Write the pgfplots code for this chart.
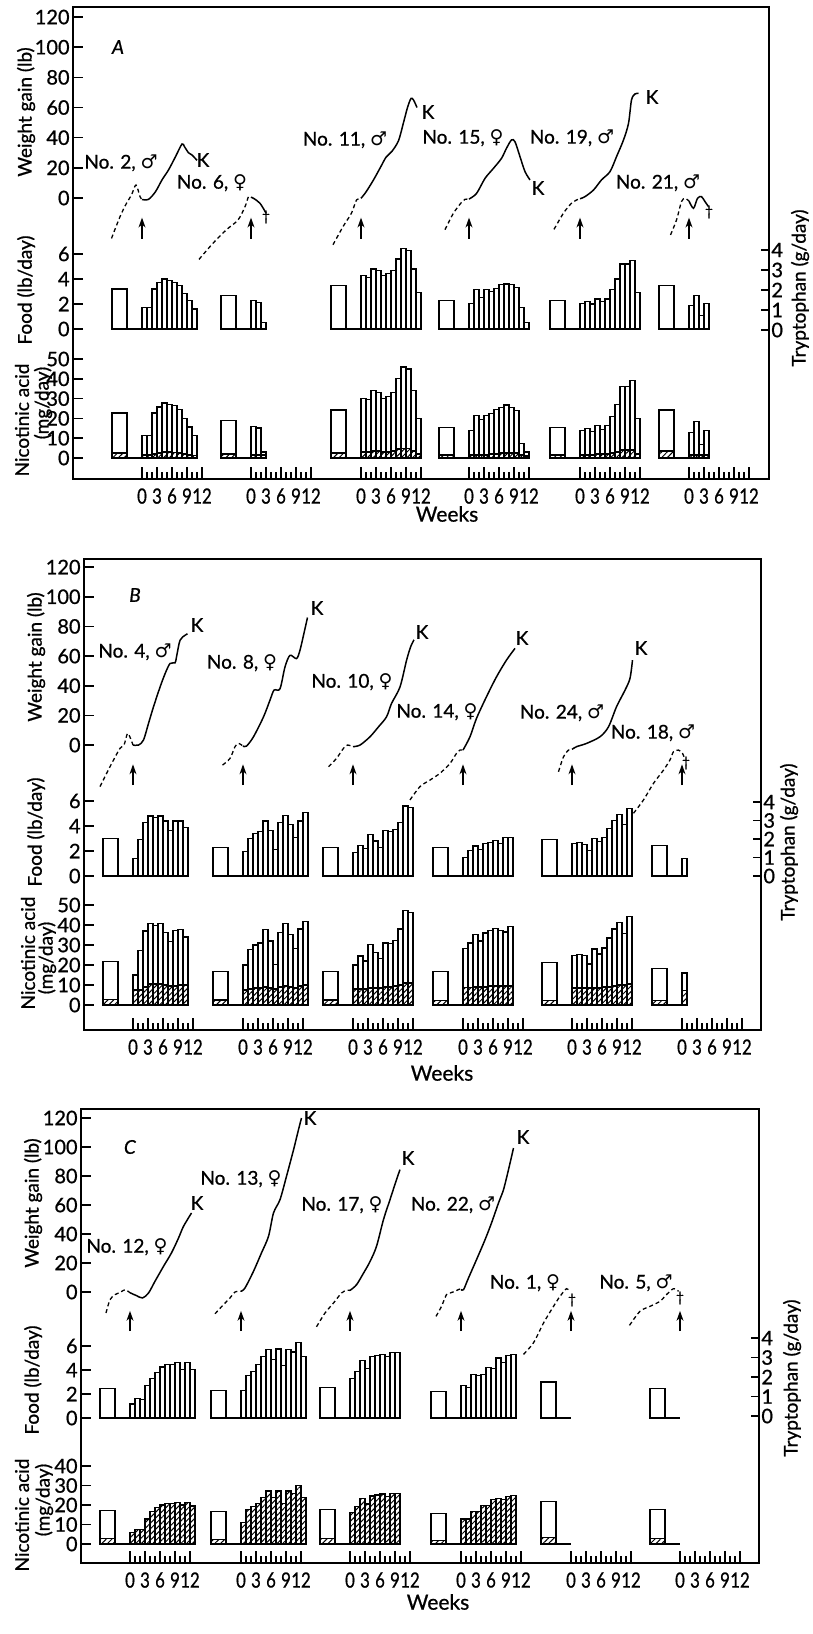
\documentclass[border=0pt]{standalone}
\usepackage{fontspec}
\setmainfont{Lato}[FakeBold=0.8]
\newfontfamily\symf{DejaVu Sans}
\usepackage{pgfplots}
\pgfplotsset{compat=1.18}
\usetikzlibrary{patterns,patterns.meta,arrows.meta}

\newcommand\tlf{\fontsize{10}{12}\selectfont}
\newcommand\wlf{\fontsize{10.5}{12}\selectfont}
\newcommand\lf{\fontsize{9.5}{11}\selectfont}
\newcommand\Male{{\symf ♂}}
\newcommand\Fem{{\symf ♀}}
\newcommand\dg{{\fontsize{7}{8}\selectfont †}}

\pgfplotsset{
 every axis/.append style={/pgf/number format/assume math mode=true},
 common/.style={x=2.5pt, xmin=0, anchor=south west, clip=false},
 frame/.style={common, ymin=0, ymax=1, axis line style={line width=0.9pt}, ytick=\empty, xtick pos=left, tick align=inside, major tick length=6pt, minor tick length=3.5pt, every tick/.style={black, line width=0.6pt}, xticklabel style={font=\wlf, inner sep=1pt, yshift=-3.5pt, xscale=0.8},
   xticklabels={0,3,6,9,12,0,3,6,9,12,0,3,6,9,12,0,3,6,9,12,0,3,6,9,12,0,3,6,9,12}},
 lax/.style={common, hide x axis, axis y line*=left, axis line style={draw=none}, tick align=inside, major tick length=5pt, every tick/.style={black, line width=0.8pt}, yticklabel style={font=\tlf, inner sep=1.5pt}},
 rax/.style={common, hide x axis, axis y line*=right, axis line style={draw=none}, tick align=inside, major tick length=4pt, every tick/.style={black, line width=0.8pt}, yticklabel style={font=\tlf, inner sep=1pt}, ymin=0, ymax=4.2, ytick={0,1,2,3,4}},
 wb/.style={ybar, bar shift=0pt, bar width=2.5pt, fill=white, draw=black, line width=0.6pt},
 pb/.style={wb, bar width=7.5pt},
 hb/.style={ybar, bar shift=0pt, bar width=2.5pt, draw=black, line width=0.6pt, pattern={Lines[angle=45,distance=2pt,line width=0.5pt]}},
 phb/.style={hb, bar width=7.5pt},
 dsh/.style={black, line width=0.65pt, dash pattern=on 2pt off 1.5pt, smooth, no markers},
 sol/.style={black, line width=0.75pt, smooth, no markers},
}

\newcommand\prebar[3][pb]{\addplot[#1] table[row sep=\\, x expr=\thisrow{t}+#2, y=v]{t v\\-4.5 #3\\};}
\newcommand\wk[3][wb]{\addplot[#1] table[row sep=\\, x expr=\coordindex+0.5+#2, y=v]{v\\#3};}
\newcommand\baseln[1]{\addplot[black, line width=0.6pt] table[row sep=\\, x expr=\thisrow{t}+#1, y=v]{t v\\-3 0\\0 0\\};}
\newcommand\wdash[2]{\addplot[dsh] table[row sep=\\, x expr=\thisrow{t}+#1, y=w]{t w\\#2};}
\newcommand\wsol[2]{\addplot[sol] table[row sep=\\, x expr=\thisrow{t}+#1, y=w]{t w\\#2};}
\newcommand\arr[1]{\addplot[black, line width=0.7pt, -{Stealth[length=5pt,width=3.5pt]}] table[row sep=\\, x expr=\thisrow{t}+#1, y=w]{t w\\0 -27\\0 -13\\};}
\newcommand\TT[3]{\node[font=\lf, inner sep=0pt] at (#1*0.5pt,-#2*0.5pt) {#3};}
\newcommand\RR[3]{\node[font=\lf, inner sep=0pt, rotate=90] at (#1*0.5pt,-#2*0.5pt) {#3};}

\begin{document}
\begin{tikzpicture}
\useasboundingbox (0,0) rectangle (406.5pt,-817pt);

%%%%%%%%%%%%%%%% PANEL A
\begin{axis}[frame, xmax=139.2, y=236pt, at={(36.5pt,-239.5pt)},
 xtick={13.8,16.8,19.8,22.8,25.8,35.6,38.6,41.6,44.6,47.6,57.6,60.6,63.6,66.6,69.6,79.2,82.2,85.2,88.2,91.2,101.4,104.4,107.4,110.4,113.4,123.2,126.2,129.2,132.2,135.2},
 minor xtick={14.8,15.8,17.8,18.8,20.8,21.8,23.8,24.8,36.6,37.6,39.6,40.6,42.6,43.6,45.6,46.6,58.6,59.6,61.6,62.6,64.6,65.6,67.6,68.6,80.2,81.2,83.2,84.2,86.2,87.2,89.2,90.2,102.4,103.4,105.4,106.4,108.4,109.4,111.4,112.4,124.2,125.2,127.2,128.2,130.2,131.2,133.2,134.2}]
\end{axis}

\begin{axis}[lax, xmax=139.2, ymin=-50, ymax=125, y=0.754pt, at={(36.5pt,-136.7pt)}, ytick={0,20,...,120}]
 \wdash{13.8}{-6.1 -26.8\\-4.4 -12.4\\-3.1 -3.5\\-2.1 2\\-1.2 8.6\\-0.4 0.9\\0 -1\\}
 \wsol{13.8}{0 -1\\1.3 -0.9\\2.7 4.2\\4 12\\5.3 18.6\\6.7 27.4\\8 35.8\\8.5 34\\9.3 30\\10 28.5\\11 25\\}
 \arr{13.8}
 \wdash{35.6}{-10.4 -40.7\\-7.6 -30\\-4.9 -21\\-2.6 -14.6\\-1.2 -5.8\\-0.5 0.9\\0 0.5\\}
 \wsol{35.6}{0 0.5\\0.5 -0.2\\1.8 -3.5\\3 -10\\}
 \arr{35.6}
 \wdash{57.6}{-5.6 -31\\-3.6 -19\\-1.9 -10\\-0.9 -1.3\\0 -0.2\\}
 \wsol{57.6}{0 -0.2\\1 4\\2.5 12\\4 21\\5 27\\6.2 31\\7.5 38\\8.5 50\\9.3 60\\10 66\\10.5 65\\11.2 60\\}
 \arr{57.6}
 \wdash{79.2}{-4.8 -21\\-3.1 -10\\-1.4 -2.5\\-0.8 -0.9\\0 -0.7\\}
 \wsol{79.2}{0 -0.7\\1.5 3\\3.2 13\\4.9 19.7\\6.5 26.3\\7.5 33\\8.5 38.5\\9.2 37.3\\10.2 27.4\\11.2 17.5\\12.2 12\\}
 \arr{79.2}
 \wdash{101.4}{-5.2 -20.8\\-3.3 -10\\-1.7 -3.5\\-0.3 -0.7\\0 -0.5\\}
 \wsol{101.4}{0 -0.5\\1 0.9\\2.7 5.3\\4.3 12\\6 17.5\\7.3 27.4\\8.7 38.5\\9.7 49.5\\10.3 65\\11 69\\11.7 69.4\\}
 \arr{101.4}
 \wdash{123.2}{-3.7 -24.5\\-2.5 -14.6\\-1.5 -2.4\\-0.8 -0.2\\0 -2\\}
 \wsol{123.2}{0 -2\\0.9 -6.8\\1.7 -0.2\\2.5 0.9\\3.2 -2.4\\3.9 -5.7\\}
 \arr{123.2}
\end{axis}

\begin{axis}[lax, xmax=139.2, ymin=0, ymax=6.5, y=6.25pt, at={(36.5pt,-164.5pt)}, ytick={0,2,4,6}]
 \prebar{13.8}{3.2}\baseln{13.8}
 \wk{13.8}{1.7\\1.7\\3.2\\3.7\\4.0\\3.9\\3.75\\3.5\\2.85\\2.3\\1.6\\}
 \prebar{35.6}{2.7}\baseln{35.6}
 \wk{35.6}{2.25\\2.15\\0.5\\}
 \prebar{57.6}{3.5}\baseln{57.6}
 \wk{57.6}{4.3\\4.15\\4.8\\4.65\\4.3\\4.45\\4.7\\5.6\\6.45\\6.25\\4.8\\2.9\\}
 \prebar{79.2}{2.3}\baseln{79.2}
 \wk{79.2}{2.05\\3.15\\2.55\\3.15\\3.0\\3.25\\3.55\\3.6\\3.55\\3.35\\1.7\\0.55\\}
 \prebar{101.4}{2.3}\baseln{101.4}
 \wk{101.4}{2.05\\2.2\\2.0\\2.4\\2.2\\2.4\\3.15\\4.0\\5.2\\5.2\\5.5\\2.95\\}
 \prebar{123.2}{3.5}\baseln{123.2}
 \wk{123.2}{1.9\\2.7\\1.1\\2.05\\}
\end{axis}
\begin{axis}[rax, xmax=139.2, y=10pt, at={(36.5pt,-165pt)}]
\end{axis}

\begin{axis}[lax, xmax=139.2, ymin=0, ymax=52, y=0.99pt, at={(36.5pt,-229pt)}, ytick={0,10,...,50}]
 \prebar{13.8}{22.7}\prebar[phb]{13.8}{2.5}\baseln{13.8}
 \wk{13.8}{11.4\\11.4\\22.7\\25.8\\27.8\\26.9\\26.4\\24.4\\19.9\\15.7\\11.4\\}
 \wk[hb]{13.8}{1.5\\1.5\\2\\2.5\\3\\3\\2.8\\2.5\\2\\1.5\\1.2\\}
 \prebar{35.6}{18.9}\prebar[phb]{35.6}{2}\baseln{35.6}
 \wk{35.6}{16\\15.2\\3\\}
 \wk[hb]{35.6}{1.5\\1.5\\1.5\\}
 \prebar{57.6}{24.2}\prebar[phb]{57.6}{2.5}\baseln{57.6}
 \wk{57.6}{30\\29.5\\34\\33\\30\\31\\33\\40\\46\\45\\34\\20\\}
 \wk[hb]{57.6}{3\\3\\3.5\\3.5\\3\\3\\3.5\\4.5\\5\\5\\3.5\\2\\}
 \prebar{79.2}{15.3}\prebar[phb]{79.2}{1.5}\baseln{79.2}
 \wk{79.2}{14\\21.4\\19.5\\21.4\\22.6\\24.6\\25.6\\26.8\\25.5\\23.9\\7.4\\3\\}
 \wk[hb]{79.2}{1.5\\1.5\\1.5\\1.5\\2\\2\\2.5\\2.5\\2.5\\2.5\\1.5\\1\\}
 \prebar{101.4}{15.3}\prebar[phb]{101.4}{1.5}\baseln{101.4}
 \wk{101.4}{14\\15\\13.5\\16.5\\14.5\\16.5\\21\\27\\36\\36\\39\\20\\}
 \wk[hb]{101.4}{1.5\\1.5\\1.5\\2\\2\\2\\2.5\\3\\4\\4\\4\\2\\}
 \prebar{123.2}{24.2}\prebar[phb]{123.2}{3.5}\baseln{123.2}
 \wk{123.2}{13\\18.3\\6.9\\14\\}
 \wk[hb]{123.2}{1.5\\1.5\\1.5\\1.5\\}
\end{axis}

%%%%%%%%%%%%%%%% PANEL B
\begin{axis}[frame, xmax=135.4, y=235.5pt, at={(42pt,-515pt)},
 xtick={9.8,12.8,15.8,18.8,21.8,31.8,34.8,37.8,40.8,43.8,53.8,56.8,59.8,62.8,65.8,75.8,78.8,81.8,84.8,87.8,97.6,100.6,103.6,106.6,109.6,119.6,122.6,125.6,128.6,131.6},
 minor xtick={10.8,11.8,13.8,14.8,16.8,17.8,19.8,20.8,32.8,33.8,35.8,36.8,38.8,39.8,41.8,42.8,54.8,55.8,57.8,58.8,60.8,61.8,63.8,64.8,76.8,77.8,79.8,80.8,82.8,83.8,85.8,86.8,98.6,99.6,101.6,102.6,104.6,105.6,107.6,108.6,120.6,121.6,123.6,124.6,126.6,127.6,129.6,130.6}]
\end{axis}

\begin{axis}[lax, xmax=135.4, ymin=-50, ymax=125, y=0.7415pt, at={(42pt,-409.6pt)}, ytick={0,20,...,120}]
 \wdash{9.8}{-6.6 -28\\-4.6 -14.6\\-2.6 -2.2\\-1.8 0\\-1.1 7.8\\-0.5 4.5\\0 0\\}
 \wsol{9.8}{0 0\\1.1 0\\2.1 3.4\\3.1 14.6\\4.1 25.8\\5.4 39\\6.4 48\\7.4 55\\8.4 55.4\\8.7 59.4\\9.4 70.6\\10.4 74\\10.9 75\\}
 \arr{9.8}
 \wdash{31.8}{-4.1 -13.5\\-2.6 -9\\-1.6 -1.1\\-0.9 1.1\\0 -0.7\\}
 \wsol{31.8}{0 -0.7\\0.7 -0.7\\2.1 5.6\\4.1 19\\5.4 30.3\\6.2 37\\7.4 38\\8.4 52.7\\9.4 60.5\\10.7 58.3\\11.4 64\\12.4 78.5\\12.9 86\\}
 \arr{31.8}
 \wdash{53.8}{-4.9 -14.6\\-3.3 -9\\-1.9 -2.2\\-1.1 0\\0 -1.1\\}
 \wsol{53.8}{0 -1.1\\1.4 0\\3.4 5.6\\5.1 12.3\\6.7 19\\7.7 28\\9.4 39.2\\10.7 57\\11.5 66\\12.2 71\\}
 \arr{53.8}
 \wdash{75.8}{-10.6 -37\\-8.6 -28\\-6.6 -23.6\\-4.6 -19\\-2.6 -12.4\\-1.3 -5.6\\-0.6 -3.4\\0 -3.4\\}
 \wsol{75.8}{0 -3.4\\1.4 5.6\\2.7 18\\4.7 32.6\\6.7 46\\8.7 57.3\\10.4 65.2\\}
 \arr{75.8}
 \wdash{97.6}{-2.7 -18\\-1.7 -7.9\\-0.7 -3.4\\0 -2.9\\}
 \wsol{97.6}{0 -2.9\\0.9 -1.1\\2.9 1.1\\5.6 5.6\\7.3 12.3\\8.9 25.8\\10.6 37\\11.6 45\\12.1 57.3\\}
 \arr{97.6}
 \wdash{119.6}{-9.7 -46\\-7.7 -37\\-5.7 -25.8\\-3.7 -16.9\\-2.4 -10\\-1.7 -4.5\\-0.7 -3.4\\0.1 -5.6\\0.6 -10\\}
 \arr{119.6}
\end{axis}

\begin{axis}[lax, xmax=135.4, ymin=0, ymax=6.5, y=6.25pt, at={(42pt,-438pt)}, ytick={0,2,4,6}]
 \prebar{9.8}{3.0}\baseln{9.8}
 \wk{9.8}{1.4\\2.9\\4.3\\4.8\\4.65\\4.8\\4.4\\3.65\\4.4\\4.4\\3.9\\}
 \prebar{31.8}{2.3}\baseln{31.8}
 \wk{31.8}{1.95\\3.0\\3.4\\3.55\\4.4\\3.65\\2.1\\4.25\\4.85\\4.1\\3.1\\4.4\\5.05\\}
 \prebar{53.8}{2.3}\baseln{53.8}
 \wk{53.8}{1.9\\2.45\\2.2\\3.35\\2.8\\2.3\\3.65\\3.55\\3.7\\4.3\\5.6\\5.45\\}
 \prebar{75.8}{2.25}\baseln{75.8}
 \wk{75.8}{1.45\\2.05\\2.4\\2.1\\2.6\\2.65\\2.85\\2.6\\3.05\\3.1\\}
 \prebar{97.6}{2.9}\baseln{97.6}
 \wk{97.6}{2.6\\2.65\\2.5\\2.05\\3.0\\2.75\\3.05\\3.8\\4.45\\4.9\\4.15\\5.4\\}
 \prebar{119.6}{2.45}\baseln{119.6}
 \wk{119.6}{1.4\\}
\end{axis}
\begin{axis}[rax, xmax=135.4, y=9.25pt, at={(42pt,-438pt)}]
\end{axis}

\begin{axis}[lax, xmax=135.4, ymin=0, ymax=52, y=1pt, at={(42pt,-502.5pt)}, ytick={0,10,...,50}]
 \prebar{9.8}{21.9}\prebar[phb]{9.8}{2.8}\baseln{9.8}
 \wk{9.8}{15\\27.3\\37\\40.6\\39.7\\40.6\\36.4\\31.8\\37.3\\37.6\\34\\}
 \wk[hb]{9.8}{7.5\\7.5\\9\\10.5\\10.5\\10.5\\10\\9.5\\9.5\\10\\10\\}
 \prebar{31.8}{16.9}\prebar[phb]{31.8}{2.5}\baseln{31.8}
 \wk{31.8}{20\\27.6\\30\\31\\37.6\\32\\20.2\\36.4\\40.6\\35.3\\28.1\\38\\41.7\\}
 \wk[hb]{31.8}{7.5\\8\\8.5\\8.5\\9\\8.5\\8\\9\\9.5\\9\\8.5\\9.5\\10\\}
 \prebar{53.8}{16.9}\prebar[phb]{53.8}{2.5}\baseln{53.8}
 \wk{53.8}{20\\24.5\\22\\30.3\\26.2\\23.2\\31\\30.6\\32.3\\38\\47.2\\46.4\\}
 \wk[hb]{53.8}{8\\8\\8\\8.5\\8.5\\8.5\\9\\9\\9.5\\10\\11\\11\\}
 \prebar{75.8}{16.7}\prebar[phb]{75.8}{2.2}\baseln{75.8}
 \wk{75.8}{28.3\\31\\35.2\\32\\36\\37.2\\38.3\\37.2\\36.5\\39.3\\}
 \wk[hb]{75.8}{8.8\\8.8\\9\\9\\9\\9.5\\9.5\\9.5\\9.5\\9.5\\}
 \prebar{97.6}{21.3}\prebar[phb]{97.6}{2.2}\baseln{97.6}
 \wk{97.6}{24.7\\25.2\\24.7\\20.5\\28\\25.5\\28.5\\33.5\\38\\41.3\\35.8\\44.3\\}
 \wk[hb]{97.6}{8.5\\8.5\\8.5\\8.5\\8.5\\8.5\\9\\9\\9.5\\10\\10\\10.5\\}
 \prebar{119.6}{18.3}\prebar[phb]{119.6}{2.2}\baseln{119.6}
 \wk{119.6}{16\\}
 \wk[hb]{119.6}{7.2\\}
\end{axis}

%%%%%%%%%%%%%%%% PANEL C
\begin{axis}[frame, xmax=135.6, y=227pt, at={(40.5pt,-781.5pt)},
 xtick={9.8,12.8,15.8,18.8,21.8,32,35,38,41,44,53.8,56.8,59.8,62.8,65.8,76,79,82,85,88,98,101,104,107,110,119.8,122.8,125.8,128.8,131.8},
 minor xtick={10.8,11.8,13.8,14.8,16.8,17.8,19.8,20.8,33,34,36,37,39,40,42,43,54.8,55.8,57.8,58.8,60.8,61.8,63.8,64.8,77,78,80,81,83,84,86,87,99,100,102,103,105,106,108,109,120.8,121.8,123.8,124.8,126.8,127.8,129.8,130.8}]
\end{axis}

\begin{axis}[lax, xmax=135.6, ymin=-50, ymax=125, y=0.725pt, at={(40.5pt,-682.25pt)}, ytick={0,20,...,120}]
 \wdash{9.8}{-4.8 -14.5\\-4 -5.3\\-3 -1.8\\-1.9 -0.2\\-1 1.6\\0 -0.5\\}
 \wsol{9.8}{0 -0.5\\1.3 -2.5\\2.5 -4.1\\3.7 -0.7\\5 7.4\\6.7 17.7\\8.3 27\\9.7 37.2\\10.7 45.3\\12.3 54.5\\}
 \arr{9.8}
 \wdash{32}{-5.2 -15\\-3.5 -8.7\\-2.2 -4.1\\-1.2 0\\0 0.5\\}
 \wsol{32}{0 0.5\\0.8 2.8\\2.5 14.3\\4.1 27\\5.5 38.4\\6.5 54.5\\7.8 63.7\\9.1 79.8\\10.5 98\\11.5 112\\12.1 120\\}
 \arr{32}
 \wdash{53.8}{-6.7 -24\\-5 -14.5\\-3.3 -7.6\\-1.7 -0.7\\-0.7 1.1\\0 1.1\\}
 \wsol{53.8}{0 1.1\\1.3 5\\2.7 13\\4 21\\5.3 31.5\\6.7 50\\8 63.7\\9.3 77.5\\10 84.4\\}
 \arr{53.8}
 \wdash{76}{-5 -16.8\\-3.9 -9.9\\-2.9 -1.8\\-2.2 -0.7\\-1.2 0.5\\-0.3 2\\0 1.8\\}
 \wsol{76}{0 1.8\\0.5 1.6\\1.5 9.7\\3.1 22.3\\4.8 36\\6.1 47.6\\7.5 61.4\\8.5 70.6\\9.5 84.4\\10.5 99.3\\}
 \arr{76}
 \wdash{98}{-9.5 -43\\-7.5 -35\\-5.5 -21.4\\-3.5 -9.9\\-2.2 -3\\-0.9 2.3\\-0.2 0.5\\}
 \arr{98}
 \wdash{119.8}{-10.1 -23\\-8 -13.3\\-6 -9.9\\-4 -6.4\\-2.7 -1.8\\-1.3 2.3\\-0.3 0.5\\}
 \arr{119.8}
\end{axis}

\begin{axis}[lax, xmax=135.6, ymin=0, ymax=6.5, y=6pt, at={(40.5pt,-709pt)}, ytick={0,2,4,6}]
 \prebar{9.8}{2.43}\baseln{9.8}
 \wk{9.8}{1.17\\1.65\\1.54\\2.7\\3.3\\3.8\\4.25\\4.45\\4.45\\4.6\\4.05\\4.6\\4.05\\}
 \prebar{32}{2.3}\baseln{32}
 \wk{32}{2.3\\3.55\\3.9\\4.45\\5.15\\5.7\\4.9\\5.75\\4.4\\5.7\\5.5\\6.3\\5.1\\}
 \prebar{53.8}{2.57}\baseln{53.8}
 \wk{53.8}{3.3\\3.9\\4.8\\4.1\\5.15\\5.2\\5.3\\5.15\\5.45\\5.45\\}
 \prebar{76}{2.2}\baseln{76}
 \wk{76}{2.7\\2.55\\3.65\\3.55\\3.65\\4.2\\4.1\\5.0\\4.6\\5.2\\5.3\\}
 \prebar{98}{3.0}\baseln{98}
 \prebar{119.8}{2.45}\baseln{119.8}
\end{axis}
\begin{axis}[rax, xmax=135.6, y=9.75pt, at={(40.5pt,-708pt)}]
\end{axis}

\begin{axis}[lax, xmax=135.6, ymin=0, ymax=42, y=0.975pt, at={(40.5pt,-772pt)}, ytick={0,10,...,40}]
 \prebar{9.8}{17.1}\prebar[phb]{9.8}{2.9}\baseln{9.8}
 \wk[hb]{9.8}{6\\7.5\\7.5\\12.8\\16.6\\18.6\\20\\20.9\\20.9\\21.4\\20\\21.4\\19.5\\}
 \prebar{32}{16.6}\prebar[phb]{32}{2.5}\baseln{32}
 \wk[hb]{32}{11\\17.8\\19.1\\20.9\\23.9\\27.2\\23.9\\27.2\\20.9\\27.2\\26\\29.9\\23.9\\}
 \prebar{53.8}{17.8}\prebar[phb]{53.8}{3}\baseln{53.8}
 \wk[hb]{53.8}{16\\19.1\\23.2\\20.5\\24.6\\25.1\\25.6\\24.3\\26\\26\\}
 \prebar{76}{15.7}\prebar[phb]{76}{2}\baseln{76}
 \wk[hb]{76}{12.8\\12.8\\16.8\\16.8\\19.7\\19.7\\22.7\\23.4\\22.7\\24.4\\24.8\\}
 \prebar{98}{21.9}\prebar[phb]{98}{3.4}\baseln{98}
 \prebar{119.8}{17.9}\prebar[phb]{119.8}{3}\baseln{119.8}
\end{axis}

%%%%%%%%%%%%%%%% TEXT
% panel A
\TT{118}{47}{\textit{A}}
\TT{121}{163}{No. 2, \Male}
\TT{203}{160}{K}
\TT{212}{183}{No. 6, \Fem}
\TT{266}{217}{\dg}
\TT{345}{140}{No. 11, \Male}
\TT{428}{112}{K}
\TT{463}{138}{No. 15, \Fem}
\TT{538}{188}{K}
\TT{572}{138}{No. 19, \Male}
\TT{652}{97}{K}
\TT{658}{183}{No. 21, \Male}
\TT{709}{212}{\dg}
\node[font=\wlf, inner sep=0pt] at (447*0.5pt,-514*0.5pt) {Weeks};
\RR{26}{112}{Weight gain (lb)}
\RR{26}{290}{Food (lb/day)}
\RR{22}{420}{Nicotinic acid}
\RR{43}{403}{(mg/day)}
\RR{800}{288}{Tryptophan (g/day)}
% panel B
\TT{135}{595}{\textit{B}}
\TT{135}{652}{No. 4, \Male}
\TT{197}{625}{K}
\TT{242}{663}{No. 8, \Fem}
\TT{317}{608}{K}
\TT{352}{682}{No. 10, \Fem}
\TT{422}{632}{K}
\TT{437}{712}{No. 14, \Fem}
\TT{522}{638}{K}
\TT{562}{713}{No. 24, \Male}
\TT{641}{648}{K}
\TT{653}{733}{No. 18, \Male}
\TT{686}{763}{\dg}
\node[font=\wlf, inner sep=0pt] at (442*0.5pt,-1073*0.5pt) {Weeks};
\RR{36}{657}{Weight gain (lb)}
\RR{36}{832}{Food (lb/day)}
\RR{28}{953}{Nicotinic acid}
\RR{47}{958}{(mg/day)}
\RR{789}{842}{Tryptophan (g/day)}
% panel C
\TT{130}{1147}{\textit{C}}
\TT{127}{1247}{No. 12, \Fem}
\TT{197}{1203}{K}
\TT{241}{1179}{No. 13, \Fem}
\TT{310}{1118}{K}
\TT{342}{1205}{No. 17, \Fem}
\TT{408}{1158}{K}
\TT{453}{1205}{No. 22, \Male}
\TT{523}{1137}{K}
\TT{525}{1283}{No. 1, \Fem}
\TT{572}{1300}{\dg}
\TT{636}{1283}{No. 5, \Male}
\TT{680}{1298}{\dg}
\node[font=\wlf, inner sep=0pt] at (438*0.5pt,-1602*0.5pt) {Weeks};
\RR{33}{1203}{Weight gain (lb)}
\RR{33}{1380}{Food (lb/day)}
\RR{22}{1515}{Nicotinic acid}
\RR{44}{1500}{(mg/day)}
\RR{792}{1378}{Tryptophan (g/day)}
\end{tikzpicture}
\end{document}
